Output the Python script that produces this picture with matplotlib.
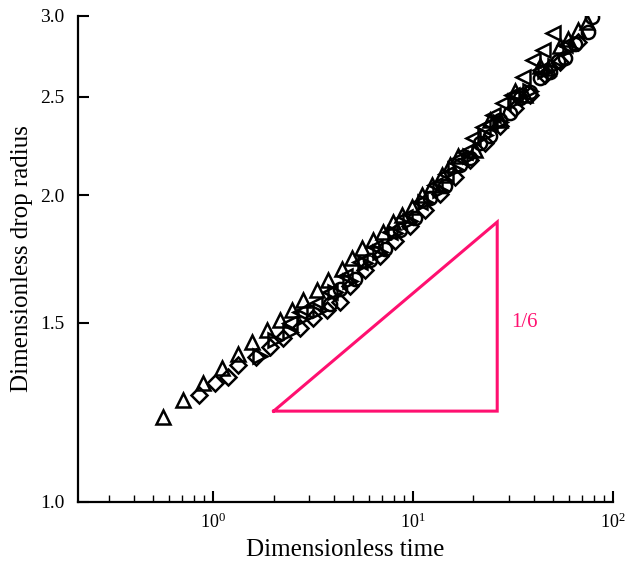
import numpy as np
import matplotlib
matplotlib.use('Agg')
import matplotlib.pyplot as plt
from matplotlib.ticker import LogLocator, FixedLocator, FuncFormatter, NullFormatter, NullLocator

plt.rcParams['font.family'] = 'Liberation Serif'
plt.rcParams['mathtext.fontset'] = 'custom'
plt.rcParams['mathtext.rm'] = 'Liberation Serif'

# data (dimensionless time, dimensionless drop radius)
up_x = [0.562, 0.708, 0.891, 1.109, 1.334, 1.567, 1.862, 2.163, 2.483, 2.818, 3.311, 3.758,
        4.416, 4.955, 5.559, 6.31, 7.08, 7.94, 8.81, 9.89, 11.09, 12.45, 13.96, 15.31,
        16.8, 20.4, 24.3, 27.2, 32.4, 36.3, 43.1, 47.3, 54.3, 59.6, 66.8, 74.1]
up_y = [1.212, 1.259, 1.309, 1.354, 1.397, 1.436, 1.475, 1.509, 1.543, 1.579, 1.615, 1.652,
        1.694, 1.736, 1.776, 1.808, 1.841, 1.884, 1.914, 1.949, 2.002, 2.048, 2.095, 2.142,
        2.187, 2.217, 2.372, 2.372, 2.533, 2.510, 2.680, 2.668, 2.804, 2.849, 2.908, 2.961]

left_x = [2.427, 2.72, 3.236, 3.84, 4.571, 5.43, 6.457, 7.67, 9.12, 10.8, 12.88, 14.5,
          17.2, 18.2, 19.95, 22.39, 24.3, 25.1, 28.2, 31.3, 32.4, 35.5, 39.8, 43.1,
          44.7, 50.1, 57.5]
left_y = [1.500, 1.537, 1.565, 1.608, 1.667, 1.721, 1.780, 1.841, 1.905, 1.971, 2.048, 2.100,
          2.177, 2.207, 2.278, 2.335, 2.350, 2.399, 2.465, 2.510, 2.510, 2.615, 2.716, 2.656,
          2.779, 2.888, 2.811]

right_x = [1.718, 2.042, 2.427, 2.884, 3.428, 4.074, 4.842, 5.754, 6.839, 8.128, 9.661,
           11.48, 13.65, 16.22, 19.28, 22.9, 27.2, 32.4, 38.5, 45.7, 51.3, 61.0]
right_y = [1.391, 1.442, 1.469, 1.519, 1.543, 1.608, 1.648, 1.717, 1.760, 1.837, 1.888,
           1.971, 2.025, 2.123, 2.187, 2.293, 2.362, 2.476, 2.533, 2.650, 2.680, 2.792]

dia_x = [0.851, 1.023, 1.189, 1.334, 1.641, 1.928, 2.239, 2.72, 3.162, 3.715, 4.315,
         4.842, 5.754, 6.839, 8.128, 9.661, 11.5, 13.65, 16.2, 19.28, 22.9, 27.2,
         32.4, 38.5, 45.7, 54.3, 66.8]
dia_y = [1.274, 1.309, 1.326, 1.363, 1.388, 1.420, 1.449, 1.482, 1.516, 1.543, 1.572,
         1.630, 1.690, 1.745, 1.804, 1.866, 1.935, 2.006, 2.085, 2.167, 2.252, 2.340,
         2.437, 2.510, 2.627, 2.704, 2.829]

circ_x = [3.846, 4.315, 5.13, 6.095, 7.24, 8.61, 10.23, 12.16, 14.45, 17.18, 19.28, 21.6,
          24.3, 27.2, 30.5, 34.3, 38.5, 43.1, 48.4, 52.7, 57.5, 64.6, 75.0, 78.5]
circ_y = [1.565, 1.619, 1.656, 1.728, 1.772, 1.849, 1.901, 1.986, 2.043, 2.142, 2.177, 2.252,
          2.288, 2.370, 2.410, 2.493, 2.527, 2.609, 2.644, 2.711, 2.729, 2.818, 2.894, 2.995]

# slope triangle
tri_x = [2.0, 26.3, 26.3, 2.0]
tri_y = [1.228, 1.228, 1.883, 1.228]

fig = plt.figure(figsize=(6.25, 5.69), dpi=100)
ax = fig.add_axes([0.1248, 0.1178, 0.8562, 0.8541])

mk = dict(linestyle='none', markerfacecolor='none', markeredgecolor='black',
          markeredgewidth=1.8, markersize=9.5)
ax.plot(dia_x, dia_y, marker='D', **dict(mk, markersize=8))
ax.plot(right_x, right_y, marker='>', **mk)
ax.plot(circ_x, circ_y, marker='o', **mk)
ax.plot(left_x, left_y, marker='<', **mk)
ax.plot(up_x, up_y, marker='^', **mk)

ax.plot(tri_x, tri_y, color='#ff1070', lw=2.2, solid_joinstyle='miter')
ax.text(31, 1.50, '1/6', color='#ff1070', fontsize=15, va='center', ha='left')

ax.set_xscale('log')
ax.set_yscale('log')
ax.set_xlim(0.21, 100)
ax.set_ylim(1.0, 3.0)

ax.yaxis.set_major_locator(FixedLocator([1.0, 1.5, 2.0, 2.5, 3.0]))
ax.yaxis.set_major_formatter(FuncFormatter(lambda v, p: '%.1f' % v))
ax.yaxis.set_minor_locator(NullLocator())
ax.xaxis.set_major_locator(LogLocator(base=10))
ax.xaxis.set_major_formatter(FuncFormatter(lambda v, p: r'$\mathregular{10^{%d}}$' % round(np.log10(v))))
ax.xaxis.set_minor_locator(LogLocator(base=10, subs=np.arange(2, 10)))
ax.xaxis.set_minor_formatter(NullFormatter())

for s in ['top', 'right']:
    ax.spines[s].set_visible(False)
for s in ['left', 'bottom']:
    ax.spines[s].set_linewidth(1.6)

ax.tick_params(which='major', direction='in', length=8, width=1.5, labelsize=14, pad=8)
ax.tick_params(which='minor', direction='in', length=5, width=1.0)
ax.tick_params(axis='y', pad=10)
ax.tick_params(axis='x', labelsize=13)

ax.set_xlabel('Dimensionless time', fontsize=18, labelpad=5)
ax.set_ylabel('Dimensionless drop radius', fontsize=18, labelpad=5)

fig.savefig('out.png', dpi=100)
